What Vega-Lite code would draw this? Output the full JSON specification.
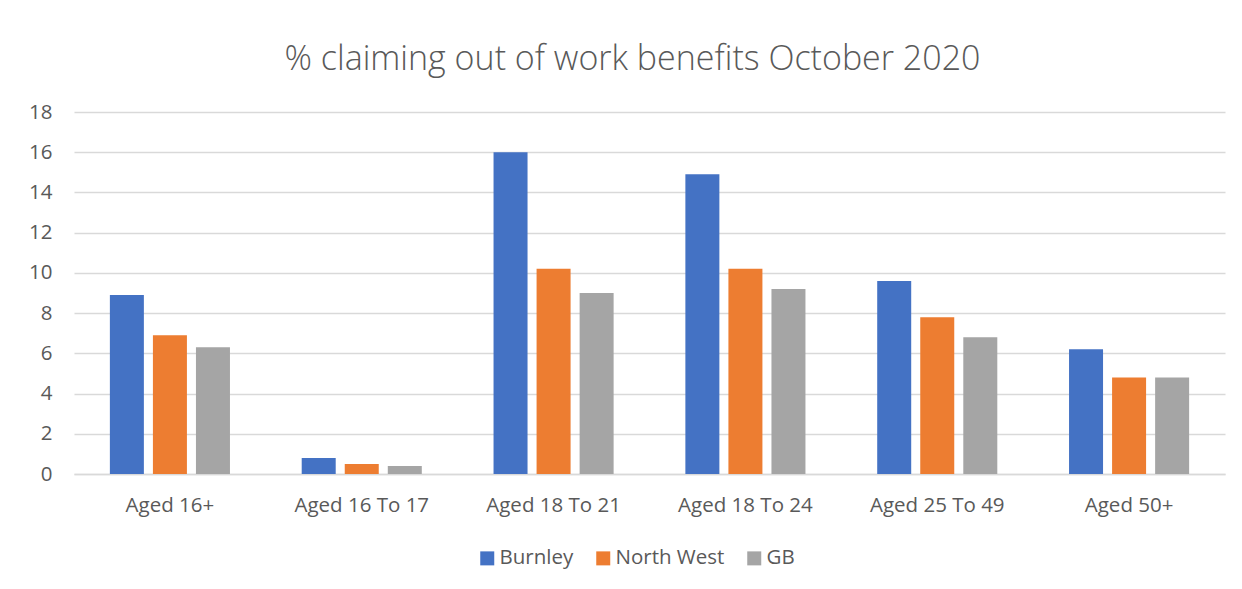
{
  "$schema": "https://vega.github.io/schema/vega-lite/v6.json",
  "autosize": {"type": "none"},
  "width": 1151,
  "height": 362,
  "padding": {"left": 74, "top": 112, "right": 17, "bottom": 115},
  "background": "white",
  "title": {
    "text": "% claiming out of work benefits October 2020",
    "font": "Open Sans",
    "fontWeight": 300,
    "fontSize": 34,
    "color": "#595959",
    "anchor": "middle",
    "offset": 25,
    "dx": -17
  },
  "data": {
    "values": [
      {"age": "Aged 16+", "area": "Burnley", "value": 8.9},
      {"age": "Aged 16+", "area": "North West", "value": 6.9},
      {"age": "Aged 16+", "area": "GB", "value": 6.3},
      {"age": "Aged 16 To 17", "area": "Burnley", "value": 0.8},
      {"age": "Aged 16 To 17", "area": "North West", "value": 0.5},
      {"age": "Aged 16 To 17", "area": "GB", "value": 0.4},
      {"age": "Aged 18 To 21", "area": "Burnley", "value": 16.0},
      {"age": "Aged 18 To 21", "area": "North West", "value": 10.2},
      {"age": "Aged 18 To 21", "area": "GB", "value": 9.0},
      {"age": "Aged 18 To 24", "area": "Burnley", "value": 14.9},
      {"age": "Aged 18 To 24", "area": "North West", "value": 10.2},
      {"age": "Aged 18 To 24", "area": "GB", "value": 9.2},
      {"age": "Aged 25 To 49", "area": "Burnley", "value": 9.6},
      {"age": "Aged 25 To 49", "area": "North West", "value": 7.8},
      {"age": "Aged 25 To 49", "area": "GB", "value": 6.8},
      {"age": "Aged 50+", "area": "Burnley", "value": 6.2},
      {"age": "Aged 50+", "area": "North West", "value": 4.8},
      {"age": "Aged 50+", "area": "GB", "value": 4.8}
    ]
  },
  "mark": {"type": "bar"},
  "encoding": {
    "x": {
      "field": "age",
      "type": "nominal",
      "sort": null,
      "scale": {"paddingInner": 0.374, "paddingOuter": 0.187},
      "axis": {
        "title": null,
        "labelAngle": 0,
        "labelFont": "Open Sans",
        "labelFontSize": 20.5,
        "labelColor": "#595959",
        "labelPadding": 21,
        "ticks": false,
        "domainColor": "#d9d9d9",
        "domainWidth": 1.5
      }
    },
    "xOffset": {
      "field": "area",
      "type": "nominal",
      "sort": ["Burnley", "North West", "GB"],
      "scale": {"paddingInner": 0.21, "paddingOuter": 0}
    },
    "y": {
      "field": "value",
      "type": "quantitative",
      "scale": {"domain": [0, 18], "nice": false},
      "axis": {
        "title": null,
        "values": [0, 2, 4, 6, 8, 10, 12, 14, 16, 18],
        "labelFont": "Open Sans",
        "labelFontSize": 20.5,
        "labelColor": "#595959",
        "labelPadding": 22,
        "ticks": false,
        "domain": false,
        "gridColor": "#d9d9d9",
        "gridWidth": 1.5
      }
    },
    "color": {
      "field": "area",
      "type": "nominal",
      "sort": ["Burnley", "North West", "GB"],
      "scale": {"domain": ["Burnley", "North West", "GB"], "range": ["#4472c4", "#ed7d31", "#a5a5a5"]},
      "legend": {
        "title": null,
        "orient": "none",
        "direction": "horizontal",
        "legendX": 403,
        "legendY": 436,
        "symbolType": "square",
        "symbolSize": 196,
        "symbolStrokeWidth": 0,
        "labelFont": "Open Sans",
        "labelFontSize": 20.5,
        "labelColor": "#595959",
        "labelOffset": 2,
        "columnPadding": 19
      }
    }
  },
  "config": {"view": {"stroke": null}}
}
